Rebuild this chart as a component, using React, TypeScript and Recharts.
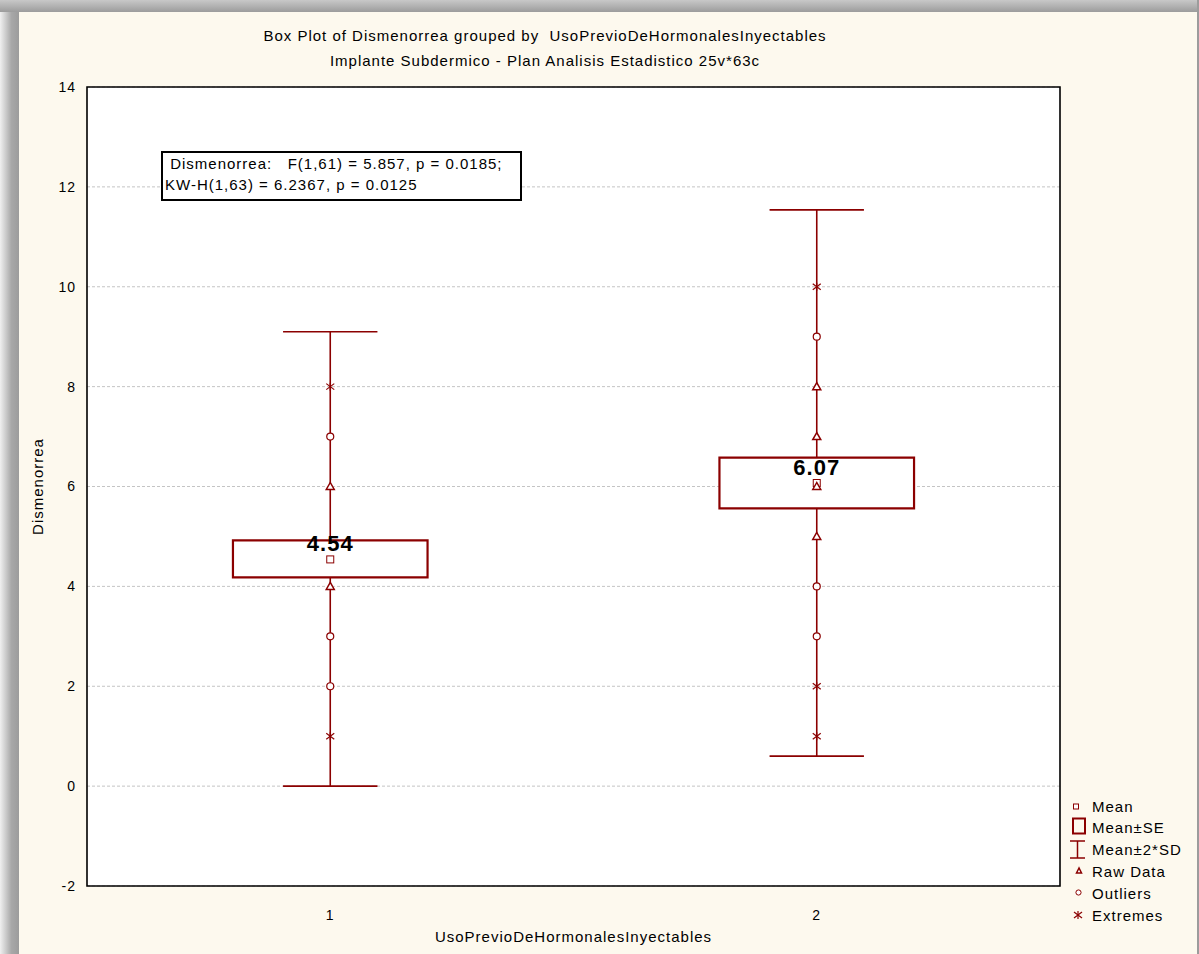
import React from 'react'
import {
  ComposedChart,
  Scatter,
  XAxis,
  YAxis,
  CartesianGrid,
  ReferenceArea,
  ReferenceLine,
} from 'recharts'

// groups of UsoPrevioDeHormonalesInyectables
const groups = [1, 2]
const means = [4.54, 6.07]
// mean +/- SE (box)
const seLow = [4.18, 5.56]
const seHigh = [4.92, 6.58]
// mean +/- 2*SD (whiskers)
const sdLow = [0.0, 0.6]
const sdHigh = [9.1, 11.54]
// individual points, per group
const rawData = [[4, 6], [5, 6, 7, 8]]
const outliers = [[2, 3, 7], [3, 4, 9]]
const extremes = [[1, 8], [1, 2, 10]]
const yTicks = [-2, 0, 2, 4, 6, 8, 10, 12, 14]

const RED = '#8b0000'
const FONT = '"Liberation Sans", Arial, sans-serif'
const BOX_HALF = 0.2
const CAP_HALF = 0.097

const toPoints = (lists: number[][]) =>
  lists.flatMap((vals, i) => vals.map((v) => ({ x: groups[i], y: v })))

const meanPoints = means.map((m, i) => ({ x: groups[i], y: m }))

const MeanShape = (p: any) => (
  <g>
    <rect x={p.cx - 3.5} y={p.cy - 3.5} width={7} height={7} fill="#fff" stroke={RED} strokeWidth={1} />
    <text
      x={p.cx}
      y={p.cy - 8}
      textAnchor="middle"
      fontSize={22}
      fontWeight="bold"
      fontFamily={FONT}
      letterSpacing={1}
      fill="#000"
    >
      {p.payload.y.toFixed(2)}
    </text>
  </g>
)

const TriangleShape = (p: any) => (
  <polygon
    points={`${p.cx},${p.cy - 4} ${p.cx - 4},${p.cy + 3} ${p.cx + 4},${p.cy + 3}`}
    fill="#fff"
    stroke={RED}
    strokeWidth={1.5}
  />
)

const CircleShape = (p: any) => (
  <circle cx={p.cx} cy={p.cy} r={3.5} fill="#fff" stroke={RED} strokeWidth={1.2} />
)

const StarShape = (p: any) => (
  <g stroke={RED} strokeWidth={1.2}>
    <line x1={p.cx} y1={p.cy - 4} x2={p.cx} y2={p.cy + 4} />
    <line x1={p.cx - 4} y1={p.cy - 3} x2={p.cx + 4} y2={p.cy + 3} />
    <line x1={p.cx - 4} y1={p.cy + 3} x2={p.cx + 4} y2={p.cy - 3} />
  </g>
)

const textStyle: React.CSSProperties = {
  fontFamily: FONT,
  fontSize: 15,
  letterSpacing: 1,
  color: '#000',
  whiteSpace: 'pre',
}

function LegendBox() {
  const rows = ['Mean', 'Mean±SE', 'Mean±2*SD', 'Raw Data', 'Outliers', 'Extremes']
  const ys = [16, 37, 59, 81, 103, 125]
  return (
    <svg width={139} height={140} style={{ position: 'absolute', left: 1060, top: 790 }}>
      <rect x={13.5} y={14} width={5} height={5} fill="#fff" stroke={RED} strokeWidth={1} />
      <rect x={13} y={28.5} width={12} height={15} fill="none" stroke={RED} strokeWidth={2} />
      <g stroke={RED} strokeWidth={1.5}>
        <line x1={10} y1={51} x2={25} y2={51} />
        <line x1={17.5} y1={51} x2={17.5} y2={68} />
        <line x1={10} y1={68} x2={25} y2={68} />
      </g>
      <polygon points="19,78 16.5,83 21.5,83" fill="#fff" stroke={RED} strokeWidth={1.5} />
      <circle cx={18.5} cy={102.5} r={2.6} fill="#fff" stroke={RED} strokeWidth={1} />
      <g stroke={RED} strokeWidth={1.2}>
        <line x1={18} y1={121} x2={18} y2={129} />
        <line x1={14} y1={122} x2={22} y2={128} />
        <line x1={14} y1={128} x2={22} y2={122} />
      </g>
      {rows.map((r, i) => (
        <text
          key={r}
          x={32}
          y={ys[i] + 5.5}
          fontSize={15}
          fontFamily={FONT}
          letterSpacing={1}
          fill="#000"
        >
          {r}
        </text>
      ))}
    </svg>
  )
}

export default function App() {
  return (
    <div
      style={{
        position: 'absolute',
        left: 0,
        top: 0,
        width: 1199,
        height: 954,
        background: '#fdf9ee',
        overflow: 'hidden',
      }}
    >
      {/* grey window frame */}
      <div style={{ position: 'absolute', left: 0, top: 0, width: 19, height: 954, background: 'linear-gradient(to right, #f0f0f0, #a8a8a8 60%, #9c9c9c)' }} />
      <div style={{ position: 'absolute', left: 0, top: 0, width: 1199, height: 12, background: 'linear-gradient(to bottom, #c8c8c8, #9c9c9c)' }} />
      <div style={{ position: 'absolute', left: 1197, top: 0, width: 2, height: 954, background: '#9c9c9c' }} />

      <div style={{ position: 'absolute', left: 0, top: 0 }}>
        <ComposedChart width={1199} height={954} margin={{ top: 87, right: 139, bottom: 0, left: 27 }}>
          <CartesianGrid vertical={false} fill="#fff" stroke="#c4c4c4" strokeDasharray="3 2" />
          <XAxis
            type="number"
            dataKey="x"
            domain={[0.5, 2.5]}
            ticks={groups}
            allowDataOverflow
            height={68}
            axisLine={false}
            tickLine={false}
            tickMargin={18}
            tick={{ fill: '#000', fontSize: 14, fontFamily: FONT, letterSpacing: 1 }}
            label={{
              value: 'UsoPrevioDeHormonalesInyectables',
              position: 'center',
              dy: 17,
              fill: '#000',
              fontSize: 15,
              fontFamily: FONT,
              letterSpacing: 1,
            }}
          />
          <YAxis
            type="number"
            dataKey="y"
            domain={[-2, 14]}
            ticks={yTicks}
            allowDataOverflow
            width={60}
            axisLine={false}
            tickLine={false}
            tickMargin={5}
            tick={{ fill: '#000', fontSize: 14, fontFamily: FONT, letterSpacing: 1 }}
            label={{
              value: 'Dismenorrea',
              angle: -90,
              position: 'center',
              dx: -19,
              fill: '#000',
              fontSize: 15,
              fontFamily: FONT,
              letterSpacing: 1,
            }}
          />

          {/* whiskers: mean +/- 2*SD, drawn around the box */}
          {groups.map((g, i) => (
            <ReferenceLine
              key={`wl${g}`}
              segment={[{ x: g, y: sdLow[i] }, { x: g, y: seLow[i] }]}
              stroke={RED}
              strokeWidth={1.6}
              ifOverflow="visible"
            />
          ))}
          {groups.map((g, i) => (
            <ReferenceLine
              key={`wh${g}`}
              segment={[{ x: g, y: seHigh[i] }, { x: g, y: sdHigh[i] }]}
              stroke={RED}
              strokeWidth={1.6}
              ifOverflow="visible"
            />
          ))}
          {groups.map((g, i) => (
            <ReferenceLine
              key={`cl${g}`}
              segment={[{ x: g - CAP_HALF, y: sdLow[i] }, { x: g + CAP_HALF, y: sdLow[i] }]}
              stroke={RED}
              strokeWidth={1.6}
              ifOverflow="visible"
            />
          ))}
          {groups.map((g, i) => (
            <ReferenceLine
              key={`ch${g}`}
              segment={[{ x: g - CAP_HALF, y: sdHigh[i] }, { x: g + CAP_HALF, y: sdHigh[i] }]}
              stroke={RED}
              strokeWidth={1.6}
              ifOverflow="visible"
            />
          ))}

          {/* boxes: mean +/- SE */}
          {groups.map((g, i) => (
            <ReferenceArea
              key={`box${g}`}
              x1={g - BOX_HALF}
              x2={g + BOX_HALF}
              y1={seLow[i]}
              y2={seHigh[i]}
              fill="#fff"
              fillOpacity={1}
              stroke={RED}
              strokeWidth={2.2}
              ifOverflow="visible"
            />
          ))}

          {/* plot frame */}
          <ReferenceArea
            x1={0.5}
            x2={2.5}
            y1={-2}
            y2={14}
            fill="none"
            fillOpacity={0}
            stroke="#000"
            strokeWidth={1.6}
            ifOverflow="visible"
          />

          <Scatter data={meanPoints} dataKey="y" shape={MeanShape} isAnimationActive={false} />
          <Scatter data={toPoints(rawData)} dataKey="y" shape={TriangleShape} isAnimationActive={false} />
          <Scatter data={toPoints(outliers)} dataKey="y" shape={CircleShape} isAnimationActive={false} />
          <Scatter data={toPoints(extremes)} dataKey="y" shape={StarShape} isAnimationActive={false} />
        </ComposedChart>
      </div>

      {/* titles */}
      <div style={{ ...textStyle, position: 'absolute', left: 0, top: 23, width: 1090, textAlign: 'center', lineHeight: '25px' }}>
        <div>Box Plot of Dismenorrea grouped by  UsoPrevioDeHormonalesInyectables</div>
        <div>Implante Subdermico - Plan Analisis Estadistico 25v*63c</div>
      </div>

      {/* statistics box */}
      <div
        style={{
          ...textStyle,
          position: 'absolute',
          left: 161,
          top: 151,
          width: 355,
          height: 46,
          border: '2px solid #000',
          background: '#fff',
          lineHeight: '21px',
          paddingLeft: 2,
          boxSizing: 'content-box',
        }}
      >
        <div>{' Dismenorrea:   F(1,61) = 5.857, p = 0.0185;'}</div>
        <div>{'KW-H(1,63) = 6.2367, p = 0.0125'}</div>
      </div>

      <LegendBox />
    </div>
  )
}
